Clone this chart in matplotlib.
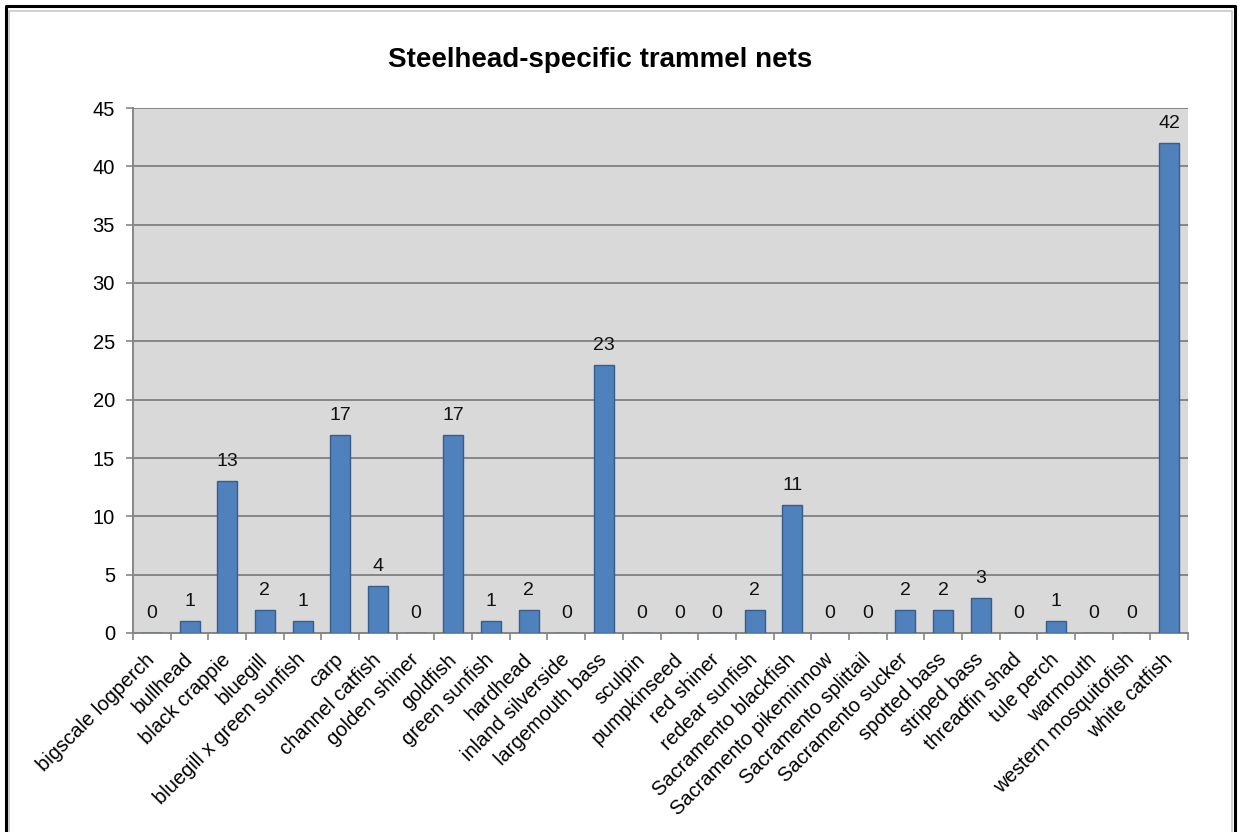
import matplotlib
matplotlib.use("Agg")
import matplotlib.pyplot as plt
import numpy as np
from matplotlib.lines import Line2D

plt.rcParams["font.family"] = ["Liberation Sans", "DejaVu Sans"]

species = [
    "bigscale logperch", "bullhead", "black crappie", "bluegill",
    "bluegill x green sunfish", "carp", "channel catfish", "golden shiner",
    "goldfish", "green sunfish", "hardhead", "inland silverside",
    "largemouth bass", "sculpin", "pumpkinseed", "red shiner",
    "redear sunfish", "Sacramento blackfish", "Sacramento pikeminnow",
    "Sacramento splittail", "Sacramento sucker", "spotted bass",
    "striped bass", "threadfin shad", "tule perch", "warmouth",
    "western mosquitofish", "white catfish",
]
counts = [0, 1, 13, 2, 1, 17, 4, 0, 17, 1, 2, 0, 23, 0, 0, 0, 2, 11, 0, 0,
          2, 2, 3, 0, 1, 0, 0, 42]
y_ticks = list(range(0, 50, 5))

W, H = 1241, 832
fig = plt.figure(figsize=(W / 100, H / 100), dpi=100)
ax = fig.add_axes([133 / W, 1 - 633 / H, (1188 - 133) / W, (633 - 108) / H])

grid_c = "#868686"
ax.set_facecolor("#D9D9D9")
x = np.arange(len(species))
ax.bar(x, counts, width=0.53, color="#4F81BD", edgecolor="#385D8A",
       linewidth=1.0, zorder=3)

for xi, v in zip(x, counts):
    ax.annotate(str(v), (xi, v), xytext=(0, 8), textcoords="offset points",
                ha="center", va="bottom", fontsize=14, color="#111111")

ax.set_xlim(-0.5, len(species) - 0.5)
ax.set_ylim(0, 45)
ax.set_yticks(y_ticks)
ax.yaxis.grid(True, color=grid_c, linewidth=1.4, zorder=0)
ax.set_axisbelow(True)
ax.tick_params(axis="y", length=5, width=1.2, color=grid_c, labelsize=14.5,
               pad=8)

ax.set_xticks(x)
ax.set_xticklabels(species, rotation=45, ha="right", va="center",
                   rotation_mode="anchor", fontsize=14.5)
ax.set_xticks(np.arange(-0.5, len(species)), minor=True)
ax.tick_params(axis="x", which="major", length=0, pad=17)
ax.tick_params(axis="x", which="minor", length=5, width=1.2, color=grid_c)

for side in ("top", "right"):
    ax.spines[side].set_visible(False)
for side in ("left", "bottom"):
    ax.spines[side].set_color(grid_c)
    ax.spines[side].set_linewidth(1.4)

fig.text(600 / W, 1 - 60 / H, "Steelhead-specific trammel nets",
         ha="center", va="center", fontsize=20, fontweight="bold")

# page frame: thin gray inner line, heavier black outer line
def frame(x0, x1, y0, color, lw):
    pts = [(x0, H), (x0, y0), (x1, y0), (x1, H)]
    xs = [p[0] / W for p in pts]
    ys = [1 - p[1] / H for p in pts]
    fig.add_artist(Line2D(xs, ys, color=color, linewidth=lw,
                          transform=fig.transFigure))

frame(9, 1232, 11, "#C8C8C8", 1.2)
frame(6, 1235, 6, "black", 2.2)

fig.savefig("out.png", dpi=100)
